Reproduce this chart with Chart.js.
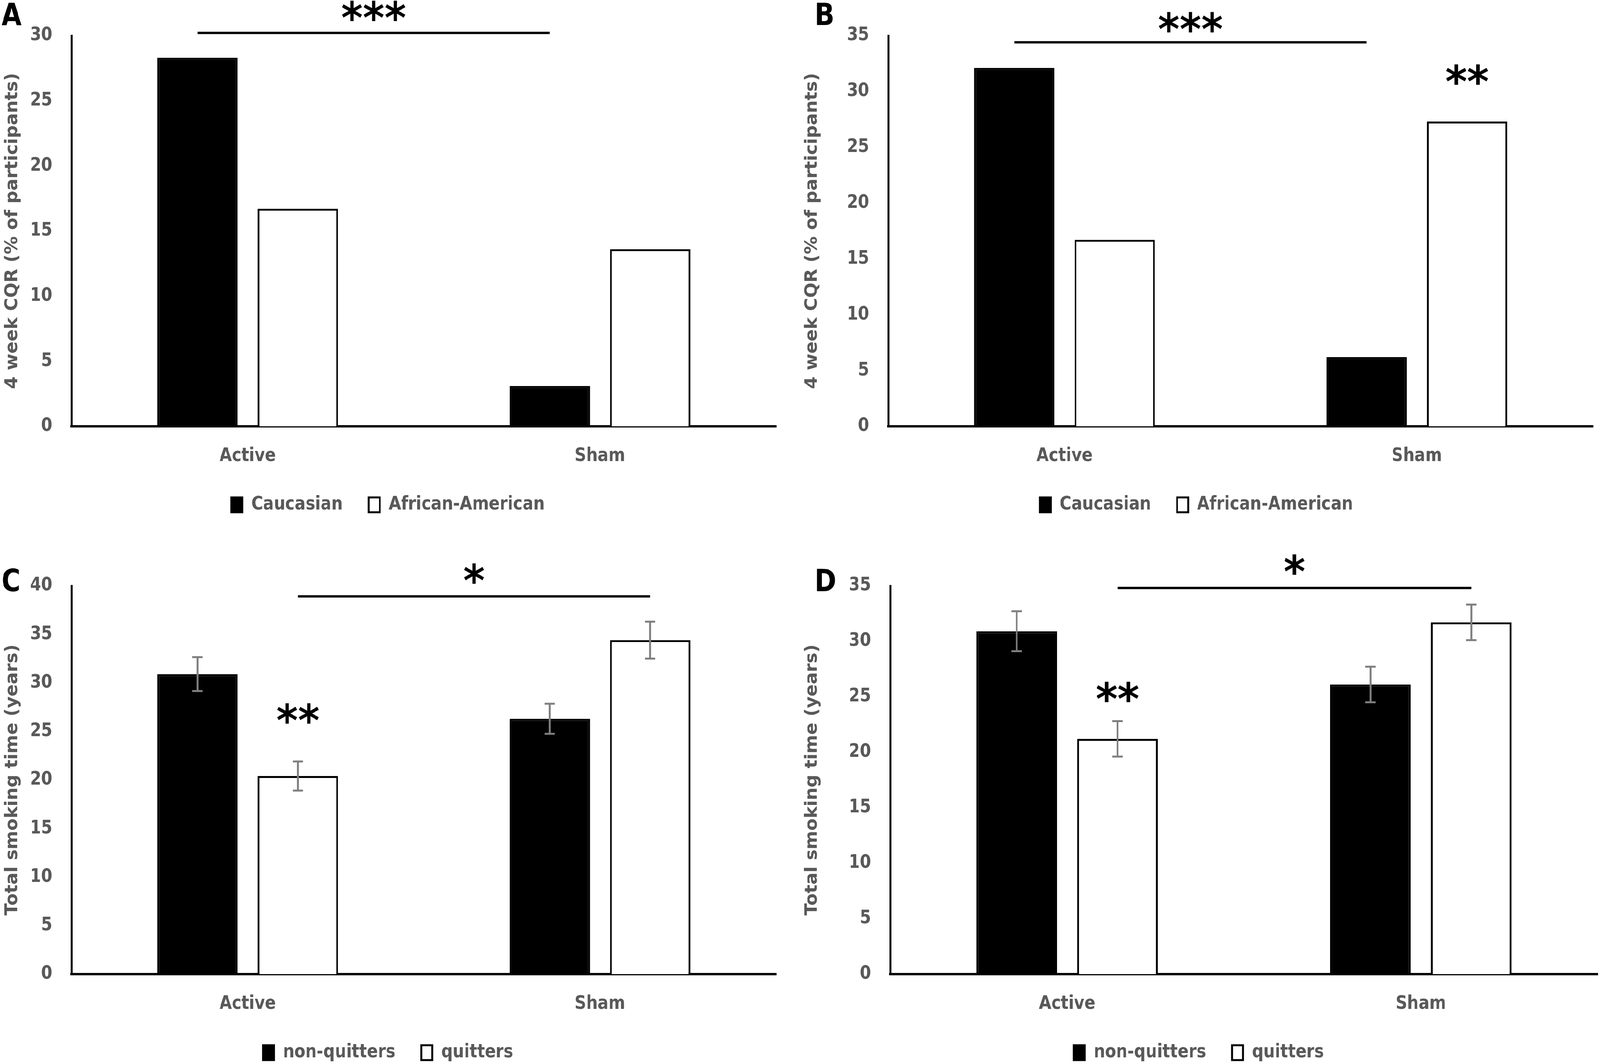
<!DOCTYPE html>
<html>
<head>
<meta charset="utf-8">
<script src="https://cdn.jsdelivr.net/npm/chart.js@4.4.0/dist/chart.umd.min.js"></script>
<style>
  html, body { margin: 0; padding: 0; background: #fff; overflow: hidden; }
  #page { width: 4317px; height: 2723px; position: relative; overflow: hidden; transform-origin: 0 0; }
  .panel { position: absolute; }
</style>
</head>
<body>
<div id="page">
<div class="panel" style="left:0;top:0;width:2158px;height:1361px"><canvas id="chartA"></canvas></div>
<div class="panel" style="left:2158px;top:0;width:2159px;height:1361px"><canvas id="chartB"></canvas></div>
<div class="panel" style="left:0;top:1361px;width:2158px;height:1402px"><canvas id="chartC"></canvas></div>
<div class="panel" style="left:2158px;top:1361px;width:2159px;height:1402px"><canvas id="chartD"></canvas></div>
</div>
<script>
// categories and series
const groups = ["Active", "Sham"];
const raceLabels = ["Caucasian", "African-American"];
const quitLabels = ["non-quitters", "quitters"];

// A: 4 week CQR (% of participants)
const cqrA_caucasian = [28.3, 3.1];
const cqrA_african = [16.7, 13.6];
// B
const cqrB_caucasian = [32.1, 6.2];
const cqrB_african = [16.7, 27.3];
// C: total smoking time (years) with error bars
const smokeC_non = [30.9, 26.3];
const smokeC_quit = [20.4, 34.4];
const errC_non = [1.75, 1.55];
const errC_quit = [1.5, 1.9];
// D
const smokeD_non = [30.9, 26.1];
const smokeD_quit = [21.2, 31.7];
const errD_non = [1.8, 1.6];
const errD_quit = [1.6, 1.6];

// y axis maxima
const maxA = 30, maxB = 35, maxC = 40, maxD = 35;

// fit the 4317x2723 layout into whatever viewport we get
const page = document.getElementById("page");
const sx = window.innerWidth / 4317, sy = window.innerHeight / 2723;
page.style.transform = "scale(" + sx + "," + sy + ")";

const GRAY = "#595959";
const narrow = "'Liberation Sans Narrow', 'DejaVu Sans Condensed', 'Arial Narrow', sans-serif";
const wide = "'DejaVu Sans', Verdana, sans-serif";

// draws error bars, significance lines, stars and the panel letter
const marksPlugin = {
  id: "marks",
  afterDatasetsDraw(chart, args, opts) {
    const ctx = chart.ctx;
    const y = chart.scales.y;
    ctx.save();
    // error bars
    chart.data.datasets.forEach((ds, di) => {
      if (!ds.errors) return;
      const meta = chart.getDatasetMeta(di);
      meta.data.forEach((bar, i) => {
        const v = ds.data[i], e = ds.errors[i];
        const y1 = y.getPixelForValue(v + e), y2 = y.getPixelForValue(v - e);
        ctx.strokeStyle = "#7f7f7f";
        ctx.lineWidth = 5;
        ctx.beginPath();
        ctx.moveTo(bar.x, y1); ctx.lineTo(bar.x, y2);
        ctx.moveTo(bar.x - 14, y1); ctx.lineTo(bar.x + 14, y1);
        ctx.moveTo(bar.x - 14, y2); ctx.lineTo(bar.x + 14, y2);
        ctx.stroke();
      });
    });
    ctx.fillStyle = "#000";
    ctx.font = "bold 112px " + wide;
    ctx.textAlign = "center";
    ctx.textBaseline = "middle";
    // significance bracket
    if (opts.line) {
      const m = chart.getDatasetMeta(opts.line.dataset);
      const x1 = m.data[0].x, x2 = m.data[1].x;
      const ly = y.getPixelForValue(opts.line.value);
      ctx.strokeStyle = "#000";
      ctx.lineWidth = 6;
      ctx.beginPath();
      ctx.moveTo(x1, ly); ctx.lineTo(x2, ly);
      ctx.stroke();
      ctx.fillText(opts.line.stars, (x1 + x2) / 2, y.getPixelForValue(opts.line.starValue) + 22);
    }
    // stars over a single bar
    (opts.barStars || []).forEach(s => {
      const bar = chart.getDatasetMeta(s.dataset).data[s.index];
      ctx.fillText(s.stars, bar.x, y.getPixelForValue(s.value) + 22);
    });
    // panel letter
    ctx.font = "bold 78px " + narrow;
    ctx.textAlign = "left";
    ctx.fillText(opts.letter, opts.letterX, opts.letterY);
    ctx.restore();
  }
};

function makeChart(id, cfg) {
  const datasets = [
    {
      label: cfg.labels[0],
      data: cfg.series[0],
      errors: cfg.errors ? cfg.errors[0] : null,
      backgroundColor: "#000000",
      borderColor: "#000000",
      borderWidth: 5,
    },
    {
      label: cfg.labels[1],
      data: cfg.series[1],
      errors: cfg.errors ? cfg.errors[1] : null,
      backgroundColor: "#ffffff",
      borderColor: "#000000",
      borderWidth: 5,
    },
  ];
  return new Chart(document.getElementById(id), {
    type: "bar",
    data: { labels: groups, datasets: datasets },
    plugins: [marksPlugin],
    options: {
      responsive: true,
      maintainAspectRatio: false,
      animation: false,
      categoryPercentage: 0.57,
      barPercentage: 0.8,
      layout: { padding: { top: cfg.padTop, right: cfg.padRight, bottom: 35, left: 0 } },
      plugins: {
        tooltip: { enabled: false },
        legend: {
          position: "bottom",
          labels: {
            color: GRAY,
            font: { family: narrow, size: 48, weight: "bold" },
            boxWidth: 30,
            boxHeight: 38,
            padding: 70,
          },
        },
        marks: cfg.marks,
      },
      scales: {
        x: {
          grid: { display: false, drawTicks: false },
          border: { color: "#000", width: 6 },
          ticks: {
            color: GRAY,
            padding: 48,
            font: { family: narrow, size: 48, weight: "bold" },
          },
          afterFit: s => { s.height = 107; },
        },
        y: {
          min: 0,
          max: cfg.max,
          grid: { display: false, drawTicks: false },
          border: { color: "#000", width: 5 },
          ticks: {
            stepSize: 5,
            color: GRAY,
            padding: 52,
            font: { family: narrow, size: 48, weight: "bold" },
          },
          title: {
            display: true,
            text: cfg.yTitle,
            color: GRAY,
            padding: { top: 6, bottom: 0 },
            font: { family: wide, size: 46, weight: "bold" },
          },
          afterFit: s => { s.width = cfg.yWidth; },
        },
      },
    },
  });
}

makeChart("chartA", {
  labels: raceLabels,
  series: [cqrA_caucasian, cqrA_african],
  max: maxA,
  yTitle: "4 week CQR (% of participants)",
  yWidth: 193, padTop: 91, padRight: 64,
  marks: {
    letter: "A", letterX: 4, letterY: 44,
    line: { dataset: 0, value: 30.2, stars: "***", starValue: 31.7 },
  },
});

makeChart("chartB", {
  labels: raceLabels,
  series: [cqrB_caucasian, cqrB_african],
  max: maxB,
  yTitle: "4 week CQR (% of participants)",
  yWidth: 239, padTop: 91, padRight: 19,
  marks: {
    letter: "B", letterX: 40, letterY: 44,
    line: { dataset: 0, value: 34.4, stars: "***", starValue: 36.0 },
    barStars: [{ dataset: 1, index: 1, stars: "**", value: 31.3 }],
  },
});

makeChart("chartC", {
  labels: quitLabels,
  series: [smokeC_non, smokeC_quit],
  errors: [errC_non, errC_quit],
  max: maxC,
  yTitle: "Total smoking time (years)",
  yWidth: 193, padTop: 138, padRight: 64,
  marks: {
    letter: "C", letterX: 4, letterY: 132,
    line: { dataset: 1, value: 38.9, stars: "*", starValue: 41.0 },
    barStars: [{ dataset: 1, index: 0, stars: "**", value: 26.6 }],
  },
});

makeChart("chartD", {
  labels: quitLabels,
  series: [smokeD_non, smokeD_quit],
  errors: [errD_non, errD_quit],
  max: maxD,
  yTitle: "Total smoking time (years)",
  yWidth: 244, padTop: 138, padRight: 6,
  marks: {
    letter: "D", letterX: 40, letterY: 132,
    line: { dataset: 1, value: 34.8, stars: "*", starValue: 36.7 },
    barStars: [{ dataset: 1, index: 0, stars: "**", value: 25.2 }],
  },
});
</script>
</body>
</html>
